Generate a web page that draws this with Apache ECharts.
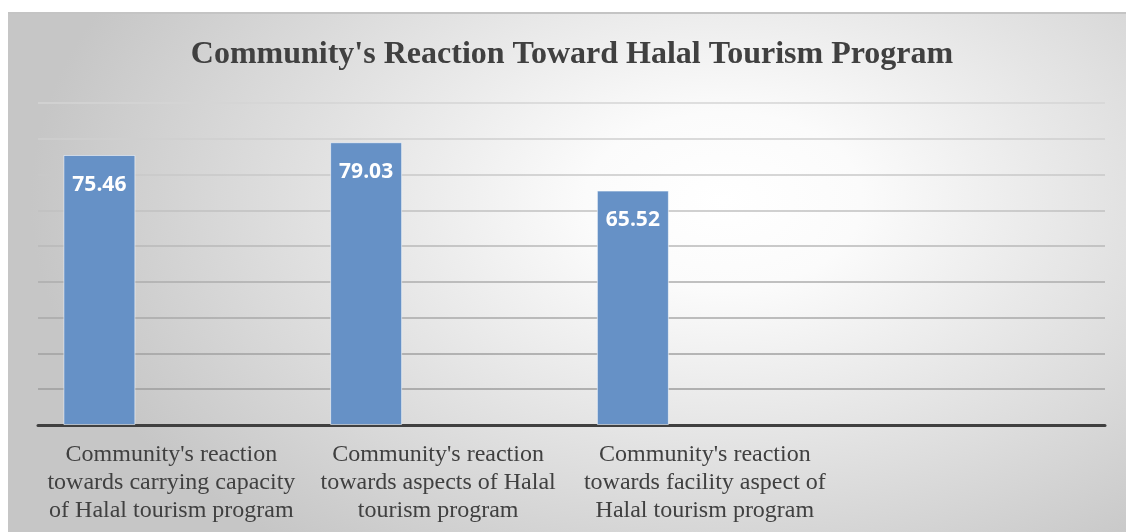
<!DOCTYPE html>
<html>
<head>
<meta charset="utf-8">
<script src="https://cdn.jsdelivr.net/npm/echarts@6/dist/echarts.min.js"></script>
<style>
html,body{margin:0;padding:0;width:1126px;height:532px;overflow:hidden;background:#fff;}
#box{position:absolute;left:8px;top:12px;width:1118px;height:520px;
 border-top:2px solid #c4c4c4;box-sizing:border-box;
 background:radial-gradient(ellipse 62% 85% at 64% 36%, #ffffff 0%, #fbfbfb 20%, #c6c6c6 100%);}
#chart{width:1118px;height:518px;}
</style>
</head>
<body>
<div id="box"><div id="chart"></div></div>
<script>
const titleText = "Community's Reaction Toward Halal Tourism Program";
const categories = [
  "Community's reaction\ntowards carrying capacity\nof Halal tourism program",
  "Community's reaction\ntowards aspects of Halal\ntourism program",
  "Community's reaction\ntowards facility aspect of\nHalal tourism program",
  ""
];
const reactionValues = [75.46, 79.03, 65.52, null];
const emptySeriesA = [null, null, null, null];
const emptySeriesB = [null, null, null, null];
const yMin = 0, yMax = 90, yStep = 10;

const chart = echarts.init(document.getElementById('chart'), null, {renderer:'canvas'});
const barStyle = {color:'#6691c6', borderColor:'rgba(255,255,255,0.55)', borderWidth:1};
chart.setOption({
  backgroundColor:'transparent',
  animation:false,
  title:{
    text:titleText, left:564, top:25, textAlign:'center', padding:0,
    textStyle:{fontFamily:'Liberation Serif', fontWeight:'bold', fontSize:32, color:'#404040'}
  },
  grid:{left:30, right:21, top:89, bottom:107, containLabel:false},
  xAxis:{
    type:'category', data:categories,
    axisLine:{lineStyle:{color:'#404040', width:3}},
    axisTick:{show:false},
    axisLabel:{interval:0, margin:16, fontFamily:'Liberation Serif', fontSize:24, lineHeight:28, color:'#404040'}
  },
  yAxis:{
    type:'value', min:yMin, max:yMax, interval:yStep,
    axisLabel:{show:false}, axisLine:{show:false}, axisTick:{show:false},
    splitLine:{lineStyle:{color:['#9c9c9c','#9c9c9c','#a0a0a0','#a8a8a8','#acacac','#b8b8b8','#c0c0c0','#c8c8c8','#cfcfcf','#d4d4d4'], width:1.5}}
  },
  series:[
    {type:'bar', data:reactionValues, barWidth:72, barGap:'0%', itemStyle:barStyle,
     label:{show:true, position:'insideTop', distance:19, color:'#ffffff',
            fontFamily:'Open Sans', fontWeight:'bold', fontSize:21,
            formatter:p=>p.value.toFixed(2)}},
    {type:'bar', data:emptySeriesA, barWidth:72, barGap:'0%', itemStyle:barStyle},
    {type:'bar', data:emptySeriesB, barWidth:72, barGap:'0%', itemStyle:barStyle}
  ]
});
</script>
</body>
</html>
